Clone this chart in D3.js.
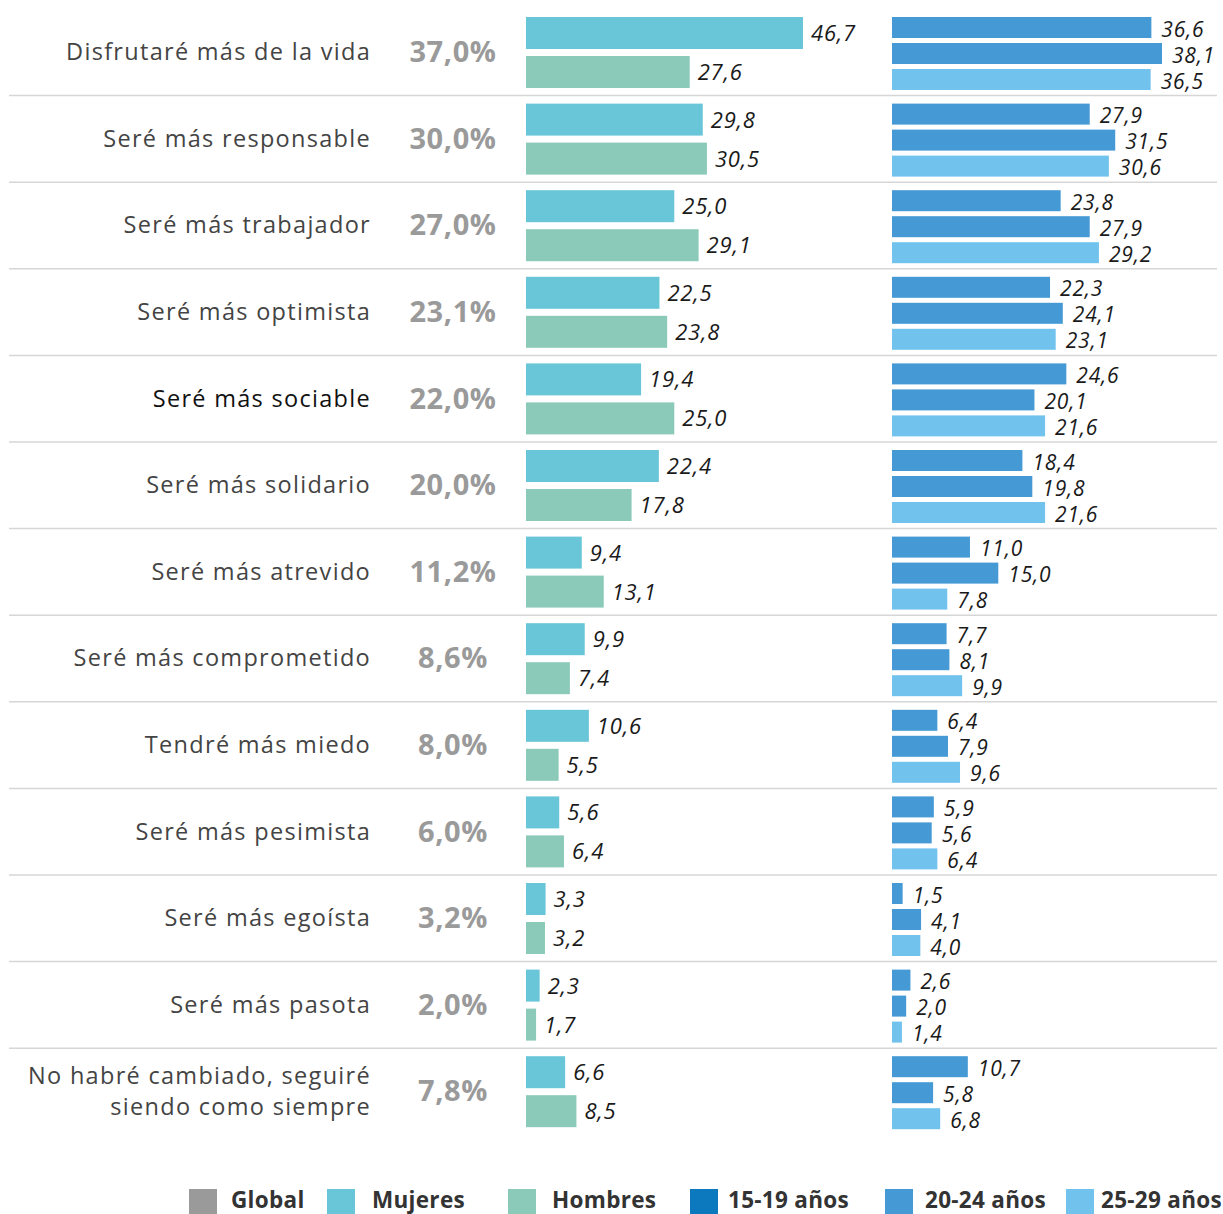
<!DOCTYPE html>
<html><head><meta charset="utf-8">
<script src="https://cdn.jsdelivr.net/npm/d3@7/dist/d3.min.js"></script>
<style>body{margin:0;background:#fff}svg{display:block}</style>
</head><body>
<svg id="c" width="1223" height="1214"></svg>
<script>
const categories = ["Disfrutaré más de la vida","Seré más responsable","Seré más trabajador","Seré más optimista","Seré más sociable","Seré más solidario","Seré más atrevido","Seré más comprometido","Tendré más miedo","Seré más pesimista","Seré más egoísta","Seré más pasota","No habré cambiado, seguiré|siendo como siempre"];
const global = [37.0,30.0,27.0,23.1,22.0,20.0,11.2,8.6,8.0,6.0,3.2,2.0,7.8];
const mujeres = [46.7,29.8,25.0,22.5,19.4,22.4,9.4,9.9,10.6,5.6,3.3,2.3,6.6];
const hombres = [27.6,30.5,29.1,23.8,25.0,17.8,13.1,7.4,5.5,6.4,3.2,1.7,8.5];
const age1519 = [36.6,27.9,23.8,22.3,24.6,18.4,11.0,7.7,6.4,5.9,1.5,2.6,10.7];
const age2024 = [38.1,31.5,27.9,24.1,20.1,19.8,15.0,8.1,7.9,5.6,4.1,2.0,5.8];
const age2529 = [36.5,30.6,29.2,23.1,21.6,21.6,7.8,9.9,9.6,6.4,4.0,1.4,6.8];
const legendLabels = ["Global","Mujeres","Hombres","15-19 años","20-24 años","25-29 años"];

const colors = {global:"#9a9a9a", muj:"#69c6d8", hom:"#8bcab8", a1:"#0c78be", a2:"#4599d4", a3:"#72c2ee"};
const fmt = v => d3.format(".1f")(v).replace(".", ",");
const FONT = "'Open Sans', sans-serif";

const svg = d3.select("#c");
const y = d3.scaleBand().domain(d3.range(categories.length)).range([9, 9 + 13*86.6]);
const yG = d3.scaleBand().domain([0,1]).range([8, 79]).paddingInner(7/39);
const yA = d3.scaleBand().domain([0,1,2]).range([8, 81]).paddingInner(5/26);
const xG = d3.scaleLinear().domain([0, 46.7]).range([526, 803]);
const xA = d3.scaleLinear().domain([0, 38.1]).range([892, 1162]);

// separators
svg.append("g").selectAll("line").data(d3.range(1, categories.length)).join("line")
  .attr("x1", 9).attr("x2", 1217)
  .attr("y1", i => y(i)).attr("y2", i => y(i))
  .attr("stroke", "#d6d6d6").attr("stroke-width", 1.5);

const rows = svg.append("g").selectAll("g").data(categories).join("g")
  .attr("transform", (d,i) => `translate(0,${y(i)})`);
const bw = y.bandwidth();

// category labels
rows.append("text")
  .attr("x", 371).attr("text-anchor", "end")
  .attr("font-family", FONT).attr("font-size", 23.5).attr("letter-spacing", 1.3)
  .attr("fill", (d,i) => i === 4 ? "#111" : "#444")
  .each(function(d) {
    const parts = d.split("|");
    const t = d3.select(this);
    parts.forEach((p, k) => {
      t.append("tspan").attr("x", 371)
        .attr("y", bw/2 + 8 + (k - (parts.length-1)/2) * 31)
        .text(p);
    });
  });

// global values
rows.append("text")
  .attr("x", 453).attr("y", bw/2 + 10).attr("text-anchor", "middle")
  .attr("font-family", FONT).attr("font-weight", 700).attr("font-size", 29).attr("letter-spacing", 0.6)
  .attr("fill", colors.global)
  .text((d,i) => fmt(global[i]) + "%");

const gSeries = [{vals:mujeres, c:colors.muj},{vals:hombres, c:colors.hom}];
const aSeries = [{vals:age1519, c:colors.a2},{vals:age2024, c:colors.a2},{vals:age2529, c:colors.a3}];

rows.each(function(d,i) {
  const g = d3.select(this);
  gSeries.forEach((s,k) => {
    g.append("rect").attr("x", xG(0)).attr("y", yG(k))
      .attr("width", xG(s.vals[i]) - xG(0)).attr("height", yG.bandwidth()).attr("fill", s.c);
    g.append("text").attr("x", xG(s.vals[i]) + 8).attr("y", yG(k) + yG.bandwidth()/2 + 8)
      .attr("font-family", FONT).attr("font-style", "italic").attr("font-size", 22).attr("letter-spacing", 0.8)
      .attr("fill", "#1a1a1a").text(fmt(s.vals[i]));
  });
  aSeries.forEach((s,k) => {
    g.append("rect").attr("x", xA(0)).attr("y", yA(k))
      .attr("width", xA(s.vals[i]) - xA(0)).attr("height", yA.bandwidth()).attr("fill", s.c);
    g.append("text").attr("x", xA(s.vals[i]) + 10).attr("y", yA(k) + yA.bandwidth()/2 + 9)
      .attr("font-family", FONT).attr("font-style", "italic").attr("font-size", 21).attr("letter-spacing", 0.8)
      .attr("fill", "#1a1a1a").text(fmt(s.vals[i]));
  });
});

// legend
const legColors = [colors.global, colors.muj, colors.hom, colors.a1, colors.a2, colors.a3];
const legX = [189, 327, 508, 690, 885, 1066];
const legTX = [231, 372, 552, 728, 925, 1101];
const lg = svg.append("g").selectAll("g").data(legendLabels).join("g");
lg.append("rect").attr("x", (d,i) => legX[i]).attr("y", 1189).attr("width", 28).attr("height", 28)
  .attr("fill", (d,i) => legColors[i]);
lg.append("text").attr("x", (d,i) => legTX[i]).attr("y", 1208)
  .attr("font-family", FONT).attr("font-weight", 700).attr("font-size", 22.5).attr("letter-spacing", 0.3)
  .attr("fill", "#333").text(d => d);
</script>
</body></html>
